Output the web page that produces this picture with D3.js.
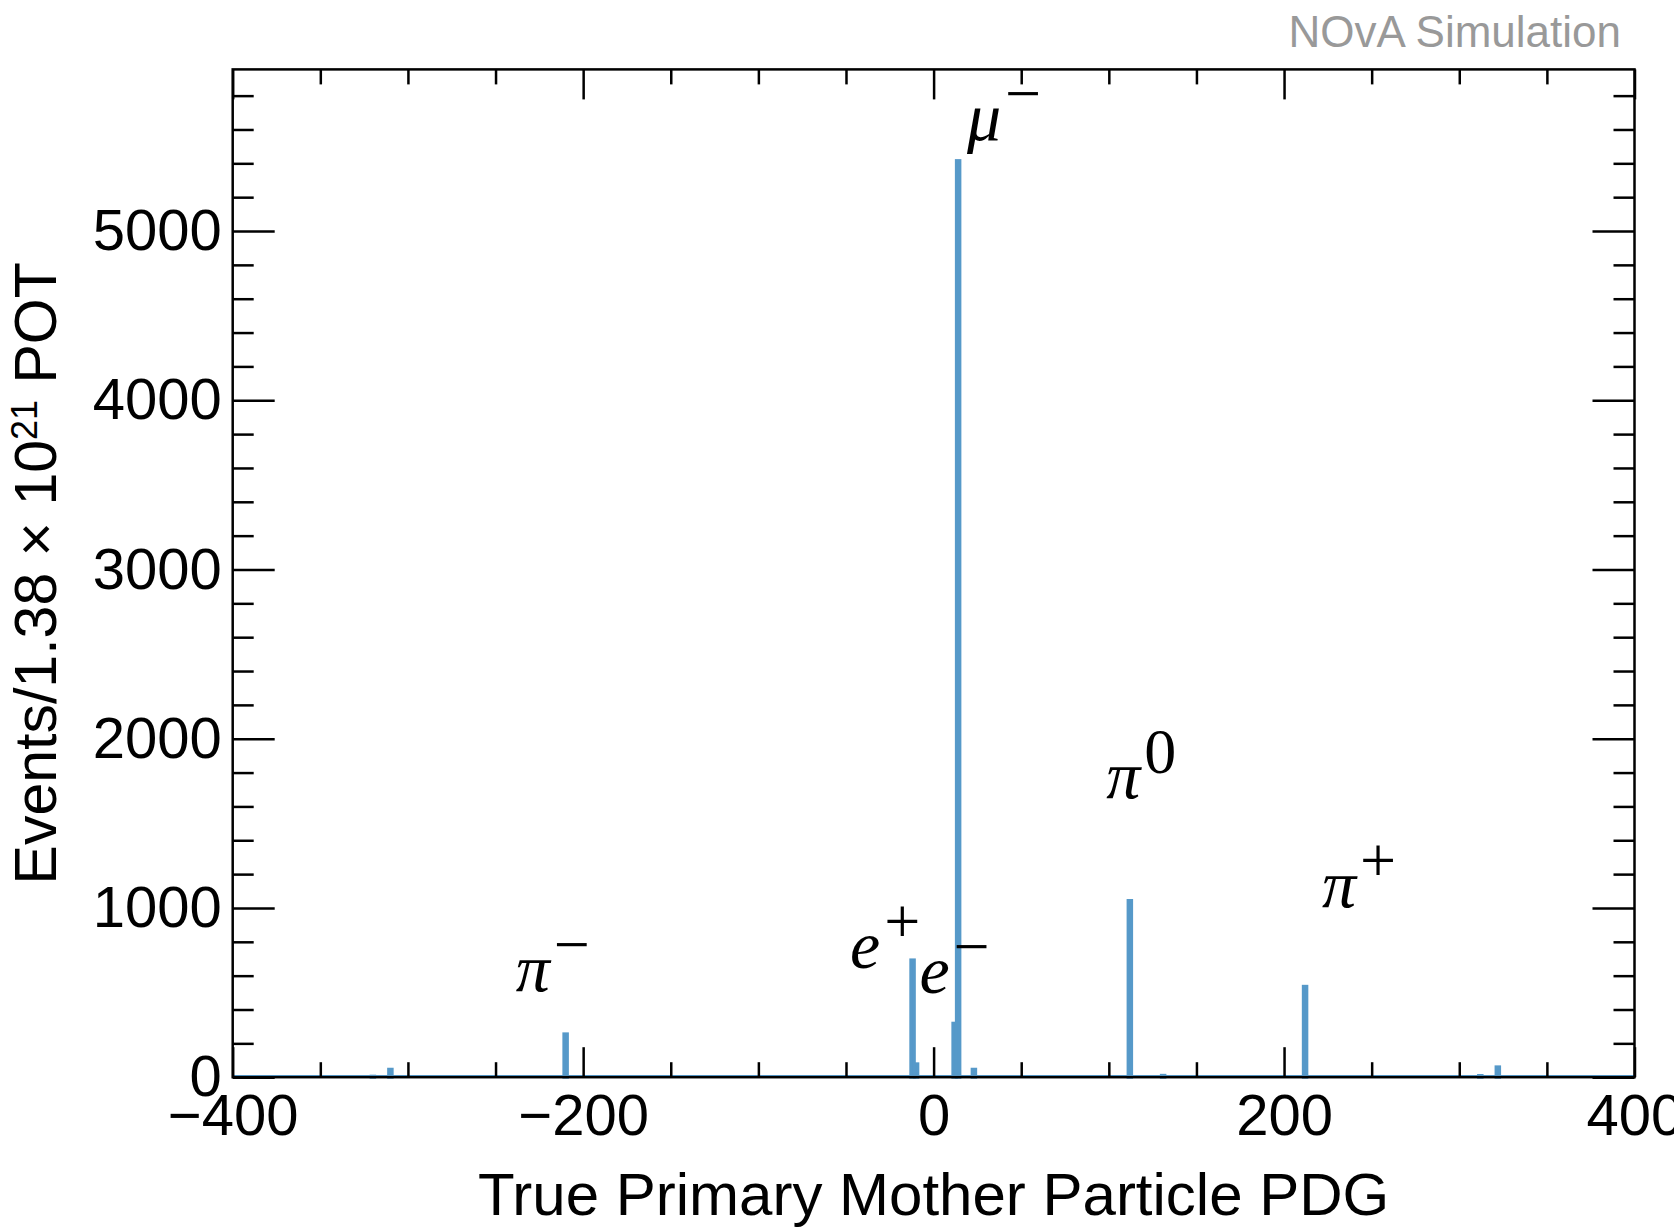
<!DOCTYPE html>
<html>
<head>
<meta charset="utf-8">
<script src="https://cdn.jsdelivr.net/npm/d3@7"></script>
<style>
body { margin:0; background:#ffffff; }
</style>
</head>
<body>
<svg id="chart" width="1674" height="1231"></svg>
<script>

// histogram bins: lower edge (PDG code) and events, bin width 2
var pdgCodes = [-321, -311, -211, -13, -11, 11, 13, 22, 111, 130, 211, 311, 321];
var events   = [6, 47, 256, 693, 79, 319, 5416, 47, 1044, 11, 537, 10, 61];
var binWidth = 2;

var xMajor = [-400, -200, 0, 200, 400];
var yMajor = [0, 1000, 2000, 3000, 4000, 5000];

// particle labels, placed in data units
var labelText = ["π", "e", "e", "μ", "π", "π"];
var labelSup  = ["−", "+", "−", "−", "0", "+"];
var labelX    = [-238.5, -47.7, -8.1, 19, 98.5, 221.6];
var labelY    = [511, 645, 497, 5535, 1649, 1005];

var svg = d3.select("#chart");
var frameL = 232.7, frameR = 1634.5, frameT = 69.4, frameB = 1077.2;
var barColor = "#5699c9";

var x = d3.scaleLinear().domain([-400, 400]).range([frameL, frameR]);
var y = d3.scaleLinear().domain([0, 5955]).range([frameB, frameT]);

var xMinor = d3.range(-400, 401, 50).filter(function(v){ return xMajor.indexOf(v) < 0; });
var yMinor = d3.range(0, 5955, 200).filter(function(v){ return yMajor.indexOf(v) < 0; });

svg.append("rect").attr("width", 1674).attr("height", 1231).attr("fill", "#ffffff");

// bars, short ones first so tall ones sit on top
var bins = pdgCodes.map(function(p, i){ return {lo: p, n: events[i]}; });
bins.sort(function(a, b){ return a.n - b.n; });

svg.append("line")
    .attr("x1", x(-400)).attr("x2", x(400))
    .attr("y1", y(0) - 1).attr("y2", y(0) - 1)
    .attr("stroke", barColor)
    .attr("stroke-width", 2.5);

svg.selectAll(".bar")
    .data(bins)
    .enter()
    .append("rect")
    .attr("class", "bar")
    .attr("x", function(d){ return x(d.lo); })
    .attr("width", function(d){ return x(d.lo + binWidth) - x(d.lo); })
    .attr("y", function(d){ return y(d.n); })
    .attr("height", function(d){ return y(0) - y(d.n); })
    .attr("fill", barColor)
    .attr("stroke", barColor)
    .attr("stroke-width", 3);

function drawAxis(axis, tr, showText){
    var g = svg.append("g").attr("transform", tr).call(axis);
    g.select(".domain").remove();
    g.selectAll(".tick line").attr("stroke", "#000").attr("stroke-width", 2.5);
    if(!showText){
        g.selectAll(".tick text").remove();
    } else {
        g.selectAll(".tick text")
            .attr("fill", "#000")
            .style("font-family", "'Liberation Sans', Arial, sans-serif")
            .style("font-size", "58px");
    }
    return g;
}

var fmt = d3.format("d");

// bottom / top
drawAxis(d3.axisBottom(x).tickValues(xMajor).tickSizeInner(-30).tickSizeOuter(0).tickPadding(17).tickFormat(fmt), "translate(0," + frameB + ")", true);
drawAxis(d3.axisBottom(x).tickValues(xMinor).tickSizeInner(-15).tickSizeOuter(0).tickFormat(""), "translate(0," + frameB + ")", false);
drawAxis(d3.axisTop(x).tickValues(xMajor).tickSizeInner(-30).tickSizeOuter(0).tickFormat(""), "translate(0," + frameT + ")", false);
drawAxis(d3.axisTop(x).tickValues(xMinor).tickSizeInner(-15).tickSizeOuter(0).tickFormat(""), "translate(0," + frameT + ")", false);

// left / right
drawAxis(d3.axisLeft(y).tickValues(yMajor).tickSizeInner(-42).tickSizeOuter(0).tickPadding(11).tickFormat(fmt), "translate(" + frameL + ",0)", true);
drawAxis(d3.axisLeft(y).tickValues(yMinor).tickSizeInner(-21).tickSizeOuter(0).tickFormat(""), "translate(" + frameL + ",0)", false);
drawAxis(d3.axisRight(y).tickValues(yMajor).tickSizeInner(-42).tickSizeOuter(0).tickFormat(""), "translate(" + frameR + ",0)", false);
drawAxis(d3.axisRight(y).tickValues(yMinor).tickSizeInner(-21).tickSizeOuter(0).tickFormat(""), "translate(" + frameR + ",0)", false);

// frame
svg.append("rect")
    .attr("x", frameL).attr("y", frameT)
    .attr("width", frameR - frameL).attr("height", frameB - frameT)
    .attr("fill", "none")
    .attr("stroke", "#000")
    .attr("stroke-width", 2.5);

// particle labels
for(var i = 0; i < labelText.length; i++){
    var t = svg.append("text")
        .attr("x", x(labelX[i]))
        .attr("y", y(labelY[i]))
        .style("font-family", "'Liberation Serif', 'Times New Roman', serif")
        .style("font-size", "68px")
        .attr("fill", "#000");
    t.append("tspan").style("font-style", "italic").text(labelText[i]);
    t.append("tspan")
        .attr("dx", 4)
        .attr("dy", -25)
        .style("font-size", "64px")
        .text(labelSup[i]);
}

// axis titles
svg.append("text")
    .attr("x", (frameL + frameR) / 2)
    .attr("y", 1215)
    .style("text-anchor", "middle")
    .style("font-family", "'Liberation Sans', Arial, sans-serif")
    .style("font-size", "60px")
    .text("True Primary Mother Particle PDG");

var yt = svg.append("text")
    .attr("transform", "translate(56," + ((frameT + frameB) / 2) + ") rotate(-90)")
    .style("text-anchor", "middle")
    .style("font-family", "'Liberation Sans', Arial, sans-serif")
    .style("font-size", "59px");
yt.append("tspan").text("Events/1.38 × 10");
yt.append("tspan").attr("dy", -19).style("font-size", "36px").text("21");
yt.append("tspan").attr("dy", 19).text(" POT");

svg.append("text")
    .attr("x", 1621)
    .attr("y", 47)
    .style("text-anchor", "end")
    .style("font-family", "'Liberation Sans', Arial, sans-serif")
    .style("font-size", "44px")
    .attr("fill", "#999999")
    .text("NOvA Simulation");

</script>
</body>
</html>
